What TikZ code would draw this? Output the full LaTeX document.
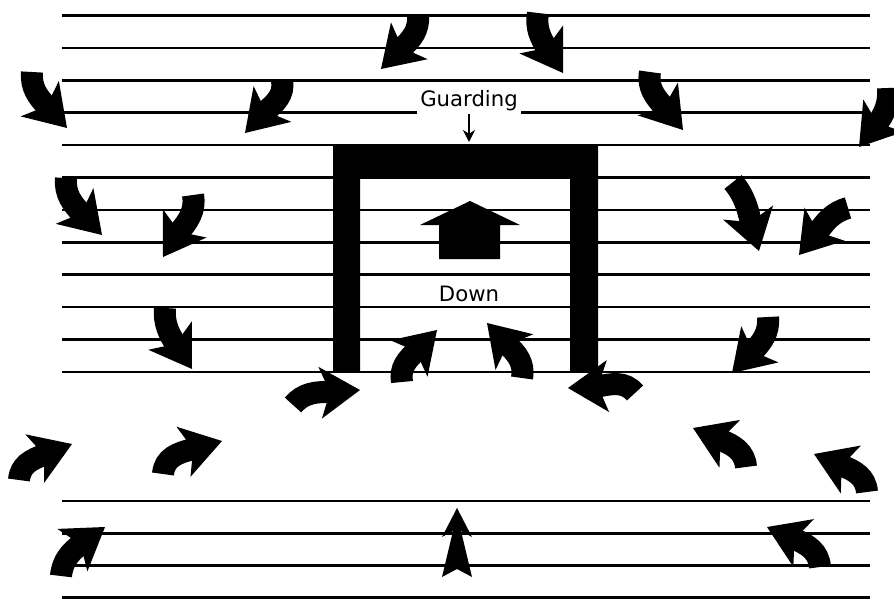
\documentclass[tikz,border=0pt]{standalone}
\usepackage{fontspec}
\setmainfont{DejaVu Sans}
\usetikzlibrary{arrows.meta,bending}

\tikzset{
  lane/.style={line width=1.3pt},
  sweep/.style={line width=11pt, -{Stealth[length=20pt,width=26pt,inset=5pt,line width=0pt]}},
  label/.style={font=\fontsize{10.6}{12}\selectfont, inner sep=1.5pt},
}

\begin{document}
\begin{tikzpicture}[x=0.5pt,y=0.5pt]
	\useasboundingbox (0,0) rectangle (894,601);
	\foreach \k in {0,...,11}
		\draw[lane] (62,{585.5-32.4*\k}) -- (870,{585.5-32.4*\k});
	\foreach \k in {0,...,3}
		\draw[lane] (62,{100-32.2*\k}) -- (870,{100-32.2*\k});
	\fill (333,229) -- (333,456) -- (598,456) -- (598,229) -- (570,229)
		-- (570,423) -- (360,423) -- (360,229) -- cycle;
	\fill (470,400) -- (520,376) -- (500,376) -- (500,342) -- (439,342)
		-- (439,376) -- (420,376) -- cycle;
	\node[label, fill=white, anchor=base] (guard) at (469,494.5) {Guarding};
	\node[label, anchor=base] (down) at (469,300) {Down};
	\coordinate (roof) at (469,459);
	\draw[-{Stealth[length=6pt,width=6pt]}, line width=1pt] (guard.south) -- (roof);
	\fill (457,93) -- (472,64) -- (461,70) -- (472,24) -- (457,32) -- (442,24)
		-- (453,70) -- (442,64) -- cycle;
	\draw[sweep] (32,529) to[out=-95,in=127] (67,473);
	\draw[sweep] (282,521) to[out=-80,in=60] (245,468);
	\draw[sweep] (418,586) to[out=-85,in=52] (381,532);
	\draw[sweep] (538,588) to[out=-100,in=118] (563,528);
	\draw[sweep] (650,529) to[out=-100,in=120] (683,471);
	\draw[sweep] (888,513) to[out=-85,in=53] (859,454);
	\draw[sweep] (66,423) to[out=-95,in=128] (102,366);
	\draw[sweep] (193,406) to[out=-80,in=68] (163,344);
	\draw[sweep] (165,293) to[out=-95,in=119] (192,232);
	\draw[sweep] (733,419) to[out=-50,in=111] (759,350);
	\draw[sweep] (848,393) to[out=-165,in=42] (799,346);
	\draw[sweep] (768,284) to[out=-85,in=51] (732,228);
	\draw[sweep] (402,219) to[out=100,in=235] (437,271);
	\draw[sweep] (522,223) to[out=80,in=305] (487,278);
	\draw[sweep] (293,196) to[out=50,in=193] (360,211);
	\draw[sweep] (635,208) to[out=130,in=-13] (568,213);
	\draw[sweep] (19,121) to[out=85,in=209] (72,157);
	\draw[sweep] (163,127) to[out=85,in=203] (222,160);
	\draw[sweep] (61,25) to[out=85,in=218] (105,74);
	\draw[sweep] (746,134) to[out=95,in=-30] (693,173);
	\draw[sweep] (867,109) to[out=95,in=-30] (814,147);
	\draw[sweep] (820,34) to[out=95,in=-29] (767,74);
\end{tikzpicture}
\end{document}
